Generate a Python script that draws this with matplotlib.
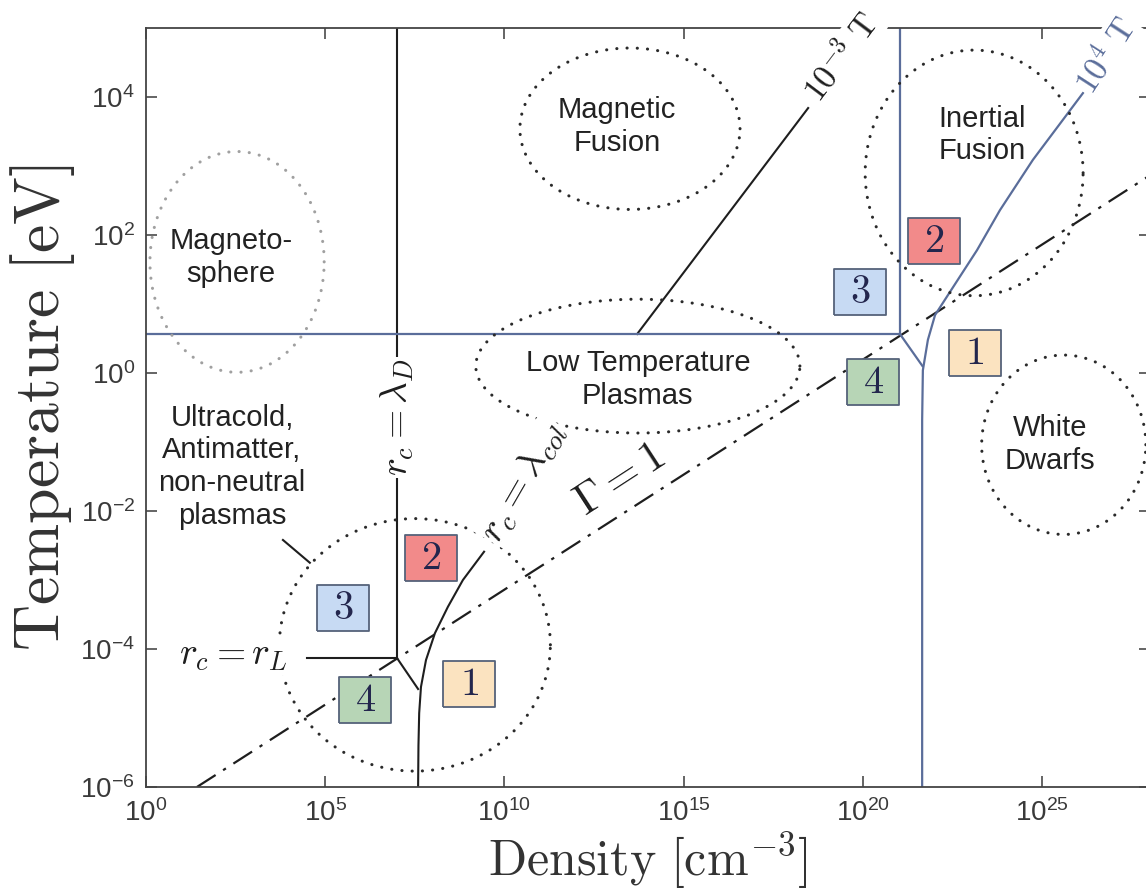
import numpy as np
import matplotlib
matplotlib.use("Agg")
import matplotlib.pyplot as plt

plt.rcParams['font.family'] = ['Liberation Sans', 'DejaVu Sans']
plt.rcParams['mathtext.fontset'] = 'cm'

# axis ranges (log10 of density / temperature)
xlim = [0, 28]
ylim = [-6, 5]
xticks = [0, 5, 10, 15, 20, 25]
yticks = [-6, -4, -2, 0, 2, 4]

# Gamma = 1 line (log10 n, log10 T)
gamma_x = [1.42, 28.2]
gamma_y = [-6.0, 2.93]

# B = 1e-3 T boundaries
blk_lamD_x = [7.0, 7.0]
blk_lamD_y = [-4.13, 5.0]
blk_rL_x = [4.49, 7.0]
blk_rL_y = [-4.13, -4.13]
blk_diag_x = [7.0, 7.59]
blk_diag_y = [-4.13, -4.58]
blk_col_x = [7.59, 7.60, 7.62, 7.67, 7.81, 8.06, 8.42, 8.84, 9.43]
blk_col_y = [-6.0, -5.40, -4.93, -4.55, -4.16, -3.77, -3.39, -3.00, -2.59]
blk_lead_x = [13.70, 18.47]
blk_lead_y = [0.565, 3.84]

# B = 1e4 T boundaries
blu_rL_x = [0.0, 21.03]
blu_rL_y = [0.565, 0.565]
blu_lamD_x = [21.03, 21.03]
blu_lamD_y = [0.565, 5.0]
blu_diag_x = [21.03, 21.66]
blu_diag_y = [0.565, 0.10]
blu_col_x = [21.65, 21.65, 21.67, 21.81, 22.01, 22.37, 23.18, 23.82, 24.74, 26.14]
blu_col_y = [-6.0, -0.68, 0.04, 0.48, 0.84, 1.13, 1.78, 2.36, 3.09, 4.06]

# plasma regions: name, centre (log n, log T), half-axes in decades
regions = ["Magneto-\nsphere", "Magnetic\nFusion", "Inertial\nFusion",
           "Low Temperature\nPlasmas", "White\nDwarfs",
           "Ultracold,\nAntimatter,\nnon-neutral\nplasmas"]
reg_cx = [2.54, 13.5, 23.1, 13.72, 25.6, 7.5]
reg_cy = [1.61, 3.54, 2.9, 0.10, -1.04, -3.94]
reg_ax = [2.43, 3.07, 3.04, 4.52, 2.29, 3.78]
reg_ay = [1.60, 1.17, 1.78, 0.97, 1.30, 1.83]
label_x = [2.37, 13.14, 23.32, 13.72, 25.22, 2.40]
label_y = [1.68, 3.57, 3.45, -0.10, -1.04, -1.36]
ell_col = ['#a0a0a0', '#2a2a2a', '#2a2a2a', '#2a2a2a', '#2a2a2a', '#2a2a2a']

# numbered regime boxes
box_num = ['2', '3', '4', '1', '2', '3', '4', '1']
box_x = [7.95, 5.50, 6.11, 9.01, 21.98, 19.92, 20.28, 23.12]
box_y = [-2.68, -3.41, -4.74, -4.51, 1.91, 1.17, -0.13, 0.29]
box_fill = {'1': '#fbe3c0', '2': '#f28a8a', '3': '#c7daf3', '4': '#b7d5b6'}

BLK = '#1e1e1e'
BLU = '#5a6d9a'

fig = plt.figure(figsize=(11.46, 8.96), dpi=100)
ax = fig.add_axes([146/1146, 109/896, 28*35.85/1146, 759/896])

def p(xs, ys, **kw):
    ax.plot(10**np.array(xs), 10**np.array(ys), **kw)

p(gamma_x, gamma_y, color=BLK, lw=1.6, ls=(0, (10, 4, 1.5, 4)))
for xs, ys in [(blk_lamD_x, blk_lamD_y), (blk_rL_x, blk_rL_y), (blk_diag_x, blk_diag_y),
               (blk_col_x, blk_col_y), (blk_lead_x, blk_lead_y)]:
    p(xs, ys, color=BLK, lw=1.5)
for xs, ys in [(blu_rL_x, blu_rL_y), (blu_lamD_x, blu_lamD_y), (blu_diag_x, blu_diag_y),
               (blu_col_x, blu_col_y)]:
    p(xs, ys, color=BLU, lw=1.6)

# dotted regions
t = np.linspace(0, 2*np.pi, 400)
for i in range(len(regions)):
    ex = reg_cx[i] + reg_ax[i]*np.cos(t)
    ey = reg_cy[i] + reg_ay[i]*np.sin(t)
    p(ex, ey, color=ell_col[i], lw=2.2, ls=(0, (0.05, 3.3)), dash_capstyle='round')
    ax.text(10**label_x[i], 10**label_y[i], regions[i], ha='center', va='center',
            fontsize=21, color='#222222', linespacing=1.22)

# leader from the ultracold label
p([3.82, 4.57], [-2.42, -2.75], color=BLK, lw=1.5)

# boxes
mk = [(-0.5, -0.45), (0.5, -0.45), (0.5, 0.45), (-0.5, 0.45), (-0.5, -0.45)]
for n, bx, by in zip(box_num, box_x, box_y):
    ax.plot(10**bx, 10**by, marker=mk, ms=37.5, mfc=box_fill[n], mec='#55627a',
            mew=1.3, zorder=4)
    ax.text(10**bx, 10**by, '$' + n + '$', ha='center', va='center', fontsize=29,
            color='#23264d', zorder=5)

wb = dict(facecolor='white', edgecolor='none', pad=1)
def lab(x, y, s, rot, size, color=BLK):
    ax.text(10**x, 10**y, s, rotation=rot, rotation_mode='anchor', ha='center',
            va='center', fontsize=size, color=color, bbox=wb, zorder=6, clip_on=False)

lab(7.0, -0.64, r'$r_c = \lambda_D$', 90, 27)
lab(2.45, -4.09, r'$r_c = r_L$', 0, 27)
lab(10.52, -1.58, r'$r_c = \lambda_{col}$', 60, 28)
lab(13.22, -1.55, r'$\Gamma = 1$', 33, 32)
lab(19.41, 4.57, r'$10^{-3}\ \mathrm{T}$', 53, 24)
lab(26.78, 4.60, r'$10^{4}\ \mathrm{T}$', 57, 24, BLU)

ax.set_xscale('log')
ax.set_yscale('log')
ax.set_xlim(10.0**xlim[0], 10.0**xlim[1])
ax.set_ylim(10.0**ylim[0], 10.0**ylim[1])
ax.set_xticks([10.0**k for k in xticks])
ax.set_xticklabels([r'$\mathregular{10^{%d}}$' % k for k in xticks])
ax.set_yticks([10.0**k for k in yticks])
ax.set_yticklabels([r'$\mathregular{10^{%d}}$' % k for k in yticks])
ax.minorticks_off()
ax.tick_params(direction='in', length=8, width=1.1, top=True, right=True,
               labelsize=20, colors='#3a3a3a')
ax.tick_params(axis='x', pad=9)
ax.tick_params(axis='y', pad=8)
for s in ax.spines.values():
    s.set_color('#444444')
    s.set_linewidth(1.3)

ax.set_xlabel(r'$\mathrm{Density\ [cm^{-3}]}$', fontsize=36, color='#333333', labelpad=2)
ax.set_ylabel(r'$\mathrm{Temperature\ [eV]}$', fontsize=46, color='#333333', labelpad=2)

fig.savefig('out.png', dpi=100)
